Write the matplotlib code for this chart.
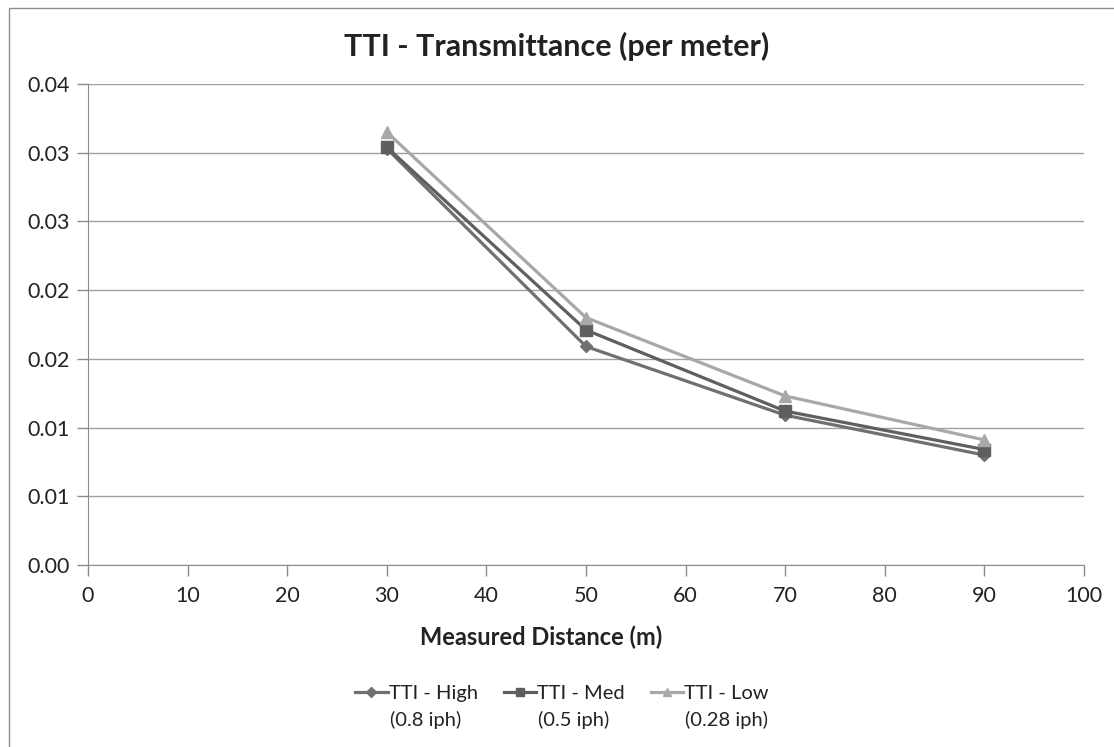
import numpy as np
import matplotlib.pyplot as plt
from matplotlib.patches import Rectangle

plt.rcParams["font.family"] = ["Lato", "DejaVu Sans"]

distance = [30, 50, 70, 90]
tti_high = [0.0303, 0.0159, 0.0109, 0.0080]
tti_med = [0.0304, 0.0171, 0.0112, 0.0084]
tti_low = [0.0315, 0.0180, 0.0123, 0.0091]

series_names = ["TTI - High", "TTI - Med", "TTI - Low"]
series_rates = ["(0.8 iph)", "(0.5 iph)", "(0.28 iph)"]

y_ticks = [0, 0.005, 0.01, 0.015, 0.02, 0.025, 0.03, 0.035]
# two-decimal labels, rounded half up
y_tick_labels = ["0.00", "0.01", "0.01", "0.02", "0.02", "0.03", "0.03", "0.04"]
x_ticks = list(range(0, 101, 10))

W, H = 1114, 747
fig = plt.figure(figsize=(W / 100, H / 100), dpi=100)
ax = fig.add_axes([88 / W, 1 - 565 / H, (1084 - 88) / W, (565 - 84) / H])

# outer chart frame
fig.patches.append(Rectangle((9 / W, -0.05), 1.2, 1 - 8 / H + 0.05,
                             transform=fig.transFigure, fill=False,
                             edgecolor="#8c8c8c", linewidth=1.0))

styles = [("D", "#707070", 6.5), ("s", "#5f5f5f", 8), ("^", "#a8a8a8", 8.5)]
for vals, name, (mk, col, ms) in zip([tti_high, tti_med, tti_low], series_names, styles):
    ax.plot(distance, vals, "-", marker=mk, color=col, lw=2.3, ms=ms, label=name)

ax.set_xlim(0, 100)
ax.set_ylim(0, 0.035)
ax.set_xticks(x_ticks)
ax.set_yticks(y_ticks)
ax.set_yticklabels(y_tick_labels)
ax.grid(axis="y", color="#a0a0a0", lw=1.0)
ax.set_axisbelow(True)

for s in ["top", "right"]:
    ax.spines[s].set_visible(False)
for s in ["left", "bottom"]:
    ax.spines[s].set_color("#8c8c8c")
ax.tick_params(colors="#8c8c8c", labelcolor="#222222", labelsize=15.5, length=8, width=1)
ax.tick_params(axis="x", pad=7)
ax.tick_params(axis="y", pad=5)

fig.text(541 / W, 1 - 637 / H, "Measured Distance (m)", ha="center", va="center",
         fontsize=17, fontweight="bold", color="#222222")
fig.text(557 / W, 1 - 46 / H, "TTI - Transmittance (per meter)", ha="center", va="center",
         fontsize=22, fontweight="bold", color="#222222")

leg = fig.legend(loc="center", bbox_to_anchor=(562 / W, 1 - 693 / H), ncol=3, frameon=False,
                 fontsize=14.5, handlelength=1.6, handletextpad=0.05, columnspacing=1.3,
                 markerscale=0.75, labelcolor="#222222")

# second line of each legend label, under the series name
fig.canvas.draw()
r = fig.canvas.get_renderer()
for txt, rate in zip(leg.get_texts(), series_rates):
    bb = txt.get_window_extent(r)
    fig.text(bb.x0 / W + 1 / W, 1 - 720 / H, rate, ha="left", va="center",
             fontsize=14.5, color="#222222")

fig.savefig("out.png", dpi=100)
